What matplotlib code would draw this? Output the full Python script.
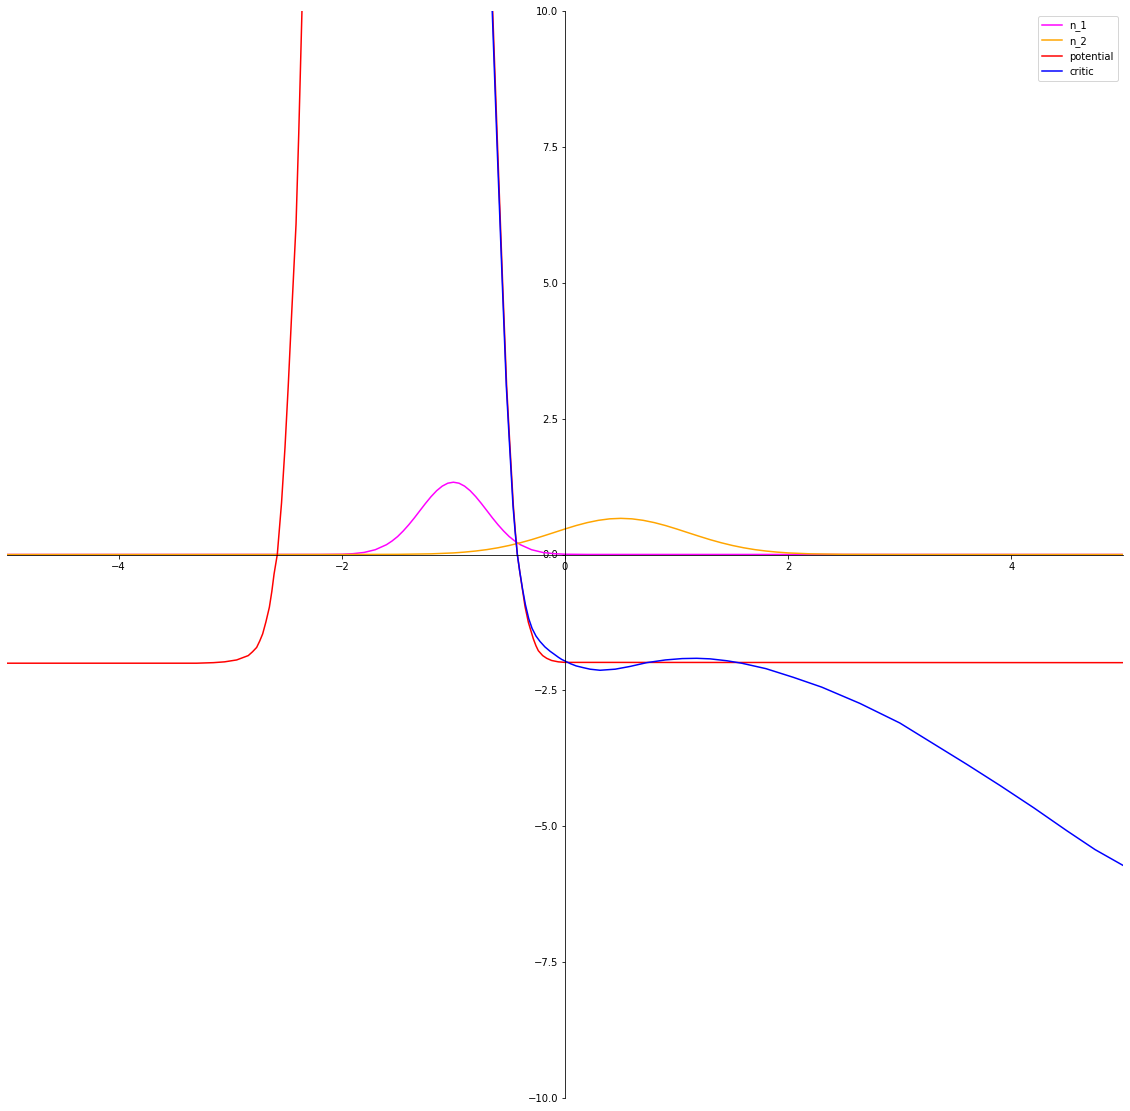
import numpy as np
import matplotlib
matplotlib.use('Agg')
from matplotlib import pyplot as plt

# values
n1_x = [-5.0, -2.2, -2.0, -1.9, -1.8, -1.7, -1.6, -1.55, -1.5, -1.45, -1.4, -1.35, -1.3,
        -1.25, -1.2, -1.15, -1.1, -1.05, -1.0, -0.95, -0.9, -0.85, -0.8, -0.75, -0.7,
        -0.65, -0.6, -0.55, -0.5, -0.45, -0.4, -0.3, -0.2, -0.1, 0.0, 0.2, 5.0]
n1_y = [0.0, 0.001, 0.005, 0.015, 0.038, 0.088, 0.18, 0.248, 0.33, 0.432, 0.547, 0.673, 0.807,
        0.94, 1.065, 1.174, 1.258, 1.312, 1.33, 1.312, 1.258, 1.174, 1.065, 0.94, 0.807,
        0.673, 0.547, 0.432, 0.33, 0.248, 0.18, 0.088, 0.038, 0.015, 0.005, 0.001, 0.0]

n2_x = [-5.0, -2.0, -1.5, -1.2, -1.0, -0.9, -0.8, -0.7, -0.6, -0.5, -0.4, -0.3, -0.2, -0.1,
        0.0, 0.1, 0.2, 0.3, 0.4, 0.5, 0.6, 0.7, 0.8, 0.9, 1.0, 1.1, 1.2, 1.3, 1.4, 1.5,
        1.6, 1.7, 1.8, 1.9, 2.0, 2.2, 2.5, 3.0, 5.0]
n2_y = [0.0, 0.0005, 0.003, 0.012, 0.029, 0.044, 0.064, 0.09, 0.124, 0.166, 0.216, 0.273, 0.337, 0.403,
        0.47, 0.533, 0.587, 0.629, 0.656, 0.665, 0.656, 0.629, 0.587, 0.533, 0.47, 0.403, 0.337, 0.273, 0.216, 0.166,
        0.124, 0.09, 0.064, 0.044, 0.029, 0.012, 0.003, 0.0005, 0.0]

pot_x = [-5.0, -3.3, -3.15, -3.05, -2.942, -2.89, -2.838, -2.8, -2.763, -2.735, -2.709,
         -2.68, -2.649, -2.627, -2.607, -2.578, -2.54, -2.509, -2.48, -2.449, -2.41, -2.386,
         -2.357, -2.33, -1.5, -0.68, -0.648, -0.606, -0.559, -0.523, -0.499, -0.463, -0.445,
         -0.427, -0.405, -0.38, -0.358, -0.328, -0.284, -0.26, -0.239, -0.2, -0.164, -0.12,
         -0.06, 0.0, 5.0]
pot_y = [-2.0, -2.0, -1.99, -1.975, -1.94, -1.9, -1.86, -1.79, -1.71, -1.59, -1.46,
         -1.24, -0.97, -0.68, -0.36, 0.0, 0.95, 1.97, 3.1, 4.44, 6.08, 7.73,
         10.0, 12.5, 15.0, 12.0, 10.0, 7.6, 5.0, 3.1, 2.2, 0.9, 0.42,
         0.0, -0.32, -0.66, -0.96, -1.25, -1.55, -1.68, -1.77, -1.86, -1.91, -1.95,
         -1.975, -1.985, -1.99]

critic_x = [-0.70, -0.652, -0.61, -0.562, -0.526, -0.502, -0.466, -0.447, -0.427, -0.405,
            -0.38, -0.355, -0.325, -0.295, -0.26, -0.224, -0.18, -0.134, -0.1, -0.06, -0.03,
            0.0, 0.05, 0.1, 0.16, 0.224, 0.314, 0.45, 0.582, 0.732, 0.9, 1.05, 1.18, 1.3,
            1.45, 1.583, 1.8, 2.046, 2.3, 2.643, 3.0, 3.3, 3.6, 3.898, 4.2, 4.495, 4.75, 5.0]
critic_y = [12.0, 10.0, 7.6, 5.0, 3.1, 2.2, 0.9, 0.42, 0.0, -0.32,
            -0.64, -0.92, -1.18, -1.36, -1.5, -1.6, -1.7, -1.78, -1.83, -1.89, -1.93,
            -1.96, -2.01, -2.05, -2.08, -2.11, -2.13, -2.11, -2.06, -1.99, -1.94, -1.915, -1.91, -1.92,
            -1.955, -2.0, -2.1, -2.26, -2.44, -2.74, -3.1, -3.48, -3.86, -4.25, -4.66, -5.08, -5.43, -5.72]

fig = plt.figure(figsize=(1130/72, 1111/72), dpi=72)
ax = fig.add_axes([7/1130, 13/1111, 1116/1130, 1087/1111])

ax.plot(n1_x, n1_y, color='magenta', label='n_1')
ax.plot(n2_x, n2_y, color='orange', label='n_2')
ax.plot(pot_x, pot_y, color='red', label='potential')
ax.plot(critic_x, critic_y, color='blue', label='critic')

ax.set_xlim(-5, 5)
ax.set_ylim(-10, 10)
ax.spines['left'].set_position('zero')
ax.spines['bottom'].set_position('zero')
ax.spines['right'].set_visible(False)
ax.spines['top'].set_visible(False)
ax.legend(loc='upper right')

fig.savefig('out.png', dpi=72)
